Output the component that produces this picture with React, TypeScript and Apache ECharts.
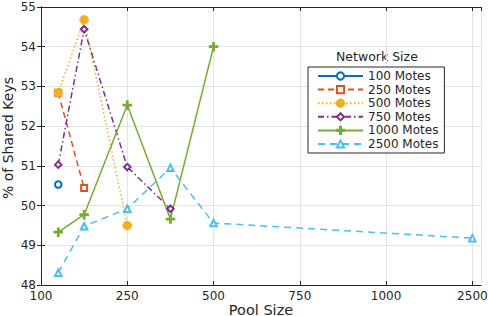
import React, { useEffect, useRef } from "react";
import * as echarts from "echarts";

const poolLabels = ["100", "250", "500", "750", "1000", "2500"];
const poolPositions = [0.2, 0.5, 1, 1.5, 2, 5];
const seriesNames = ["100 Motes", "250 Motes", "500 Motes", "750 Motes", "1000 Motes", "2500 Motes"];
const motes100 = [50.53];
const motes250 = [52.84, 50.44];
const motes500 = [52.84, 54.68, 49.5];
const motes750 = [51.03, 54.44, 50.97, 49.92];
const motes1000 = [49.33, 49.77, 52.53, 49.66, 54.0];
const motes2500 = [48.31, 49.48, 49.92, 50.95, 49.56, 49.18];

const colors = ["#0072BD", "#D95319", "#EDB120", "#7E2F8E", "#77AC30", "#4DBEEE"];
const lineTypes: any[] = ["solid", [6, 4], [1.5, 2.5], [6, 3, 1.5, 3], "solid", [7, 5]];
const plusPath = "path://M4.2,0 L5.8,0 L5.8,4.2 L10,4.2 L10,5.8 L5.8,5.8 L5.8,10 L4.2,10 L4.2,5.8 L0,5.8 L0,4.2 L4.2,4.2 Z";
const starPath =
  "path://M4.3,0 L5.7,0 L5.7,4.3 L10,4.3 L10,5.7 L5.7,5.7 L5.7,10 L4.3,10 L4.3,5.7 L0,5.7 L0,4.3 L4.3,4.3 Z M1,2 L2,1 L9,8 L8,9 Z M8,1 L9,2 L2,9 L1,8 Z";
const symbols = ["emptyCircle", "emptyRect", starPath, "emptyDiamond", plusPath, "emptyTriangle"];
const symbolSizes = [6.5, 6, 8, 6.5, 8, 6.5];

const FONT = "DejaVu Sans";
const TXT = "#262626";

export default function App() {
  const ref = useRef<HTMLDivElement>(null);
  useEffect(() => {
    const chart = echarts.init(ref.current!, undefined, { renderer: "svg" });
    const all = [motes100, motes250, motes500, motes750, motes1000, motes2500];
    const series = all.map((vals, i) => ({
      name: seriesNames[i],
      type: "line",
      xAxisIndex: 0,
      yAxisIndex: 0,
      data: vals.map((v, j) => [poolPositions[j], v]),
      symbol: symbols[i],
      symbolSize: symbolSizes[i],
      showAllSymbol: true,
      color: colors[i],
      lineStyle: { color: colors[i], width: 1.5, type: lineTypes[i] },
      itemStyle: { color: colors[i], borderColor: colors[i], borderWidth: 1.5 },
    }));
    const xFmt = (v: number) => {
      const k = Math.round(v);
      return Math.abs(v - k) < 1e-6 && k >= 0 && k < poolLabels.length ? poolLabels[k] : "";
    };
    chart.setOption({
      animation: false,
      grid: { left: 41, right: 7, top: 7, bottom: 31, show: false, outerBoundsMode: "none", containLabel: false },
      textStyle: { fontFamily: FONT },
      xAxis: [
        {
          type: "value",
          min: 0,
          max: 5.1,
          interval: 1,
          position: "bottom",
          name: "Pool Size",
          nameLocation: "middle",
          nameGap: 17,
          nameMoveOverlap: false,
          nameTextStyle: { fontFamily: FONT, fontSize: 14.5, color: TXT, verticalAlign: "top" },
          axisLine: { show: true, lineStyle: { color: TXT, width: 1 } },
          axisTick: { show: true, inside: true, length: 4, lineStyle: { color: TXT } },
          axisLabel: { formatter: xFmt, fontFamily: FONT, fontSize: 12, color: TXT, margin: 5, showMaxLabel: false },
          splitLine: { show: true, lineStyle: { color: "#e3e3e3", width: 1 } },
        },
        {
          type: "value",
          min: 0,
          max: 5.1,
          interval: 1,
          position: "top",
          axisLine: { show: true, lineStyle: { color: TXT, width: 1 } },
          axisTick: { show: true, inside: true, length: 4, lineStyle: { color: TXT } },
          axisLabel: { show: false },
          splitLine: { show: false },
        },
      ],
      yAxis: [
        {
          type: "value",
          min: 48,
          max: 55,
          interval: 1,
          position: "left",
          name: "% of Shared Keys",
          nameLocation: "middle",
          nameGap: 26,
          nameMoveOverlap: false,
          nameTextStyle: { fontFamily: FONT, fontSize: 14, color: TXT, verticalAlign: "bottom", padding: [0, 0, 0, 16] },
          axisLine: { show: true, lineStyle: { color: TXT, width: 1 } },
          axisTick: { show: true, inside: true, length: 4, lineStyle: { color: TXT } },
          axisLabel: { fontFamily: FONT, fontSize: 12, color: TXT, margin: 5 },
          splitLine: { show: true, lineStyle: { color: "#e3e3e3", width: 1 } },
        },
        {
          type: "value",
          min: 48,
          max: 55,
          interval: 1,
          position: "right",
          axisLine: { show: true, lineStyle: { color: TXT, width: 1 } },
          axisTick: { show: true, inside: true, length: 4, lineStyle: { color: TXT } },
          axisLabel: { show: false },
          splitLine: { show: false },
        },
      ],
      legend: {
        data: seriesNames,
        orient: "vertical",
        left: 308,
        top: 67,
        width: 141,
        padding: [3, 6, 3, 9],
        itemGap: 1.6,
        itemWidth: 45,
        itemHeight: 9,
        backgroundColor: "#ffffff",
        borderColor: TXT,
        borderWidth: 1,
        textStyle: { fontFamily: FONT, fontSize: 12, lineHeight: 12, color: TXT },
      },
      graphic: [
        {
          type: "text",
          left: 336,
          top: 50,
          style: { text: "Network Size", fontFamily: FONT, fontSize: 12.5, fill: TXT },
        },
      ],
      series,
    });
    return () => chart.dispose();
  }, []);
  return <div ref={ref} style={{ width: 488, height: 316, position: "absolute", left: 0, top: 0 }} />;
}
